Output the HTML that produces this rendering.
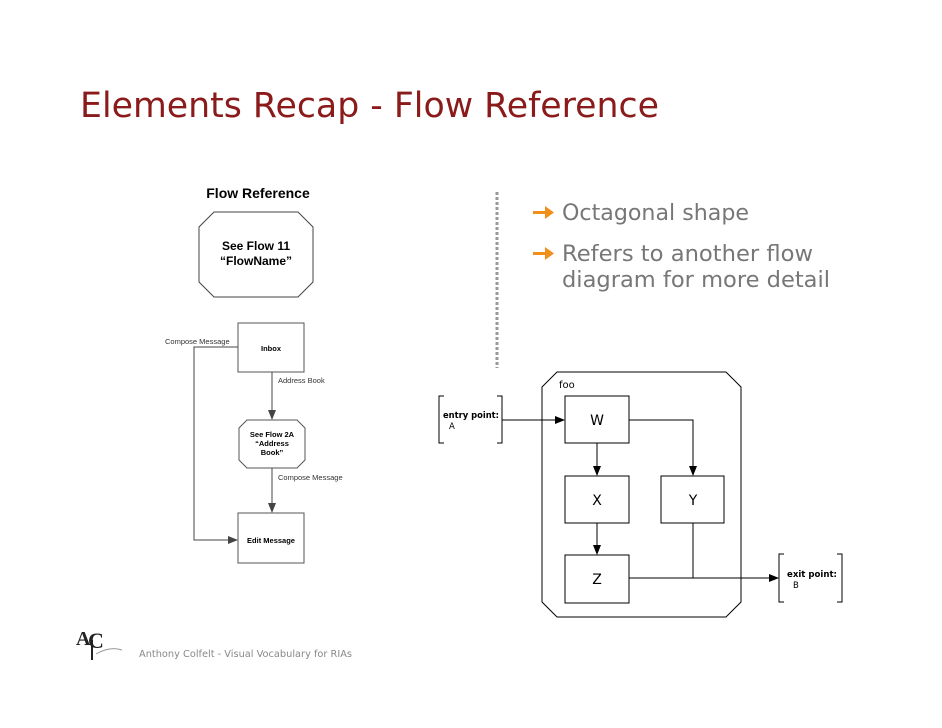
<!DOCTYPE html>
<html><head><meta charset="utf-8"><style>
html,body{margin:0;padding:0;background:#fff;}
svg{display:block;}
</style></head><body>
<svg width="942" height="728" viewBox="0 0 942 728" xmlns="http://www.w3.org/2000/svg">
<defs>
<marker id="a" markerWidth="10" markerHeight="8" refX="9" refY="4" orient="auto" markerUnits="userSpaceOnUse"><path d="M0,0 L10,4 L0,8 Z" fill="#000"/></marker>
<marker id="g" markerWidth="10" markerHeight="8" refX="9" refY="4" orient="auto" markerUnits="userSpaceOnUse"><path d="M0,0 L10,4 L0,8 Z" fill="#444"/></marker>
</defs>
<text x="80" y="117" font-family="DejaVu Sans, sans-serif" font-size="34.5" fill="#8b1a1a" textLength="579" lengthAdjust="spacingAndGlyphs">Elements Recap - Flow Reference</text>

<!-- left diagram -->
<g font-family="Liberation Sans, sans-serif">
<text x="258" y="198" text-anchor="middle" font-size="14" font-weight="bold">Flow Reference</text>
<polygon points="214,212 298,212 313,227 313,282 298,297 214,297 199,282 199,227" fill="#fff" stroke="#444" stroke-width="1"/>
<text x="256" y="250" text-anchor="middle" font-size="12" font-weight="bold">See Flow 11</text>
<text x="256" y="265" text-anchor="middle" font-size="12" font-weight="bold">“FlowName”</text>
<rect x="238" y="323" width="66" height="49" fill="#fff" stroke="#555"/>
<text x="271" y="351" text-anchor="middle" font-size="7.5" font-weight="bold">Inbox</text>
<text x="165" y="344" font-size="7.5" fill="#333">Compose Message</text>
<polyline points="238,347 194,347 194,540 237,540" fill="none" stroke="#444" marker-end="url(#g)"/>
<text x="278" y="383" font-size="7.5" fill="#333">Address Book</text>
<line x1="272" y1="372" x2="272" y2="419" stroke="#444" marker-end="url(#g)"/>
<polygon points="247,420 297,420 305,428 305,460 297,468 247,468 239,460 239,428" fill="#fff" stroke="#555"/>
<text x="272" y="437" text-anchor="middle" font-size="7.5" font-weight="bold">See Flow 2A</text>
<text x="272" y="446" text-anchor="middle" font-size="7.5" font-weight="bold">“Address</text>
<text x="272" y="455" text-anchor="middle" font-size="7.5" font-weight="bold">Book”</text>
<text x="278" y="480" font-size="7.5" fill="#333">Compose Message</text>
<line x1="272" y1="468" x2="272" y2="512" stroke="#444" marker-end="url(#g)"/>
<rect x="238" y="513" width="66" height="50" fill="#fff" stroke="#555"/>
<text x="271" y="543" text-anchor="middle" font-size="7.5" font-weight="bold">Edit Message</text>
</g>

<!-- dotted divider -->
<line x1="497" y1="192" x2="497" y2="368" stroke="#999" stroke-width="3" stroke-dasharray="3,2"/>

<!-- bullets -->
<g fill="#f0901a">
<rect x="533" y="211" width="14" height="3"/><path d="M545,206 L554,212.5 L545,219 Z"/>
<rect x="533" y="252" width="14" height="3"/><path d="M545,247 L554,253.5 L545,260 Z"/>
</g>
<g font-family="DejaVu Sans, sans-serif" font-size="22" fill="#777">
<text x="562" y="220" textLength="187" lengthAdjust="spacingAndGlyphs">Octagonal shape</text>
<text x="562" y="261" textLength="251" lengthAdjust="spacingAndGlyphs">Refers to another flow</text>
<text x="562" y="287" textLength="268" lengthAdjust="spacingAndGlyphs">diagram for more detail</text>
</g>

<!-- right diagram -->
<g font-family="DejaVu Sans, sans-serif">
<polygon points="557,372 726,372 741,387 741,602 726,617 557,617 542,602 542,387" fill="#fff" stroke="#000"/>
<text x="559" y="388" font-size="10">foo</text>
<path d="M444,396 H439 V443 H444 M497,396 H502 V443 H497" fill="none" stroke="#000"/>
<text x="443" y="418" font-size="8.5" font-weight="bold" textLength="56" lengthAdjust="spacingAndGlyphs">entry point:</text>
<text x="449" y="429" font-size="8.5">A</text>
<line x1="502" y1="420" x2="564" y2="420" stroke="#000" marker-end="url(#a)"/>
<rect x="565" y="396" width="64" height="47" fill="#fff" stroke="#000"/>
<text x="597" y="425" text-anchor="middle" font-size="14">W</text>
<rect x="565" y="476" width="64" height="47" fill="#fff" stroke="#000"/>
<text x="597" y="505" text-anchor="middle" font-size="14">X</text>
<rect x="661" y="476" width="63" height="47" fill="#fff" stroke="#000"/>
<text x="693" y="505" text-anchor="middle" font-size="14">Y</text>
<rect x="565" y="555" width="64" height="48" fill="#fff" stroke="#000"/>
<text x="597" y="584" text-anchor="middle" font-size="14">Z</text>
<line x1="597" y1="443" x2="597" y2="475" stroke="#000" marker-end="url(#a)"/>
<line x1="597" y1="523" x2="597" y2="554" stroke="#000" marker-end="url(#a)"/>
<polyline points="629,420 693,420 693,475" fill="none" stroke="#000" marker-end="url(#a)"/>
<line x1="693" y1="523" x2="693" y2="578" stroke="#000"/>
<line x1="629" y1="578" x2="778" y2="578" stroke="#000" marker-end="url(#a)"/>
<path d="M784,554 H779 V602 H784 M837,554 H842 V602 H837" fill="none" stroke="#000"/>
<text x="787" y="577" font-size="8.5" font-weight="bold" textLength="50" lengthAdjust="spacingAndGlyphs">exit point:</text>
<text x="793" y="588" font-size="8.5">B</text>
</g>

<!-- footer -->
<g font-family="Liberation Serif, serif">
<text x="76" y="645" font-size="20" font-weight="bold" fill="#222">A</text>
<text x="88" y="648" font-size="22" font-weight="bold" fill="#222">C</text>
<line x1="92" y1="640" x2="92" y2="660" stroke="#222" stroke-width="2"/>
<path d="M96,654 Q110,646 122,650" fill="none" stroke="#999"/>
</g>
<text x="139" y="657" font-family="DejaVu Sans, sans-serif" font-size="9.5" fill="#888" textLength="213" lengthAdjust="spacingAndGlyphs">Anthony Colfelt - Visual Vocabulary for RIAs</text>
</svg>
</body></html>
